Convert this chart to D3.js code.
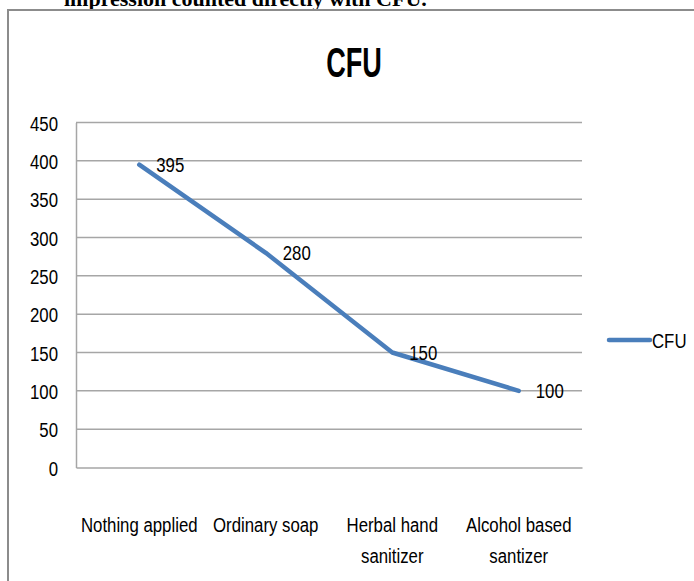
<!DOCTYPE html>
<html>
<head>
<meta charset="utf-8">
<script src="https://cdn.jsdelivr.net/npm/d3@7"></script>
<style>
  html, body { margin: 0; padding: 0; background: #fff; }
  svg { display: block; }
</style>
</head>
<body>
<div id="chart"></div>
<script>
const categories = ["Nothing applied", "Ordinary soap", "Herbal hand sanitizer", "Alcohol based santizer"];
const cfuValues = [395, 280, 150, 100];
const yTicks = [0, 50, 100, 150, 200, 250, 300, 350, 400, 450];
const seriesName = "CFU";
const chartTitle = "CFU";
const captionText = "impression counted directly with CFU.";

const W = 694, H = 581;
const plot = { left: 76, right: 582, top: 122.5, bottom: 467.5 };
const sansFont = "'Liberation Sans', Arial, sans-serif";
const FS = 21, SX = 0.8;

const svg = d3.select("#chart").append("svg").attr("width", W).attr("height", H);

// horizontally condensed text helper
function ctext(sel, x, y, str, anchor, opts = {}) {
  const sx = opts.sx || SX;
  return sel.append("text")
    .attr("transform", `translate(${x},${y}) scale(${sx},1)`)
    .attr("text-anchor", anchor || "start")
    .attr("dy", opts.dy || null)
    .attr("font-family", opts.family || sansFont)
    .attr("font-weight", opts.weight || "normal")
    .attr("font-size", opts.size || FS)
    .attr("fill", "#000")
    .text(str);
}

// caption text above the frame (cropped in the source)
svg.append("text")
  .attr("x", 64).attr("y", 6)
  .attr("font-family", "'Liberation Serif', 'Times New Roman', serif")
  .attr("font-weight", "bold")
  .attr("font-size", 22)
  .attr("fill", "#000")
  .text(captionText);

// outer chart frame (only left & top visible)
svg.append("path")
  .attr("d", `M8,${H + 5} L8,10 L${W + 5},10`)
  .attr("fill", "none").attr("stroke", "#8c8c8c").attr("stroke-width", 2);

// title
ctext(svg, 354, 77, chartTitle, "middle", { sx: 0.63, size: 43, weight: "bold" });

const x = d3.scaleBand().domain(categories).range([plot.left, plot.right]);
const y = d3.scaleLinear().domain([0, 450]).range([plot.bottom, plot.top]);
const cx = d => x(d) + x.bandwidth() / 2;

// gridlines
svg.append("g")
  .selectAll("line").data(yTicks.filter(t => t > 0)).join("line")
  .attr("x1", plot.left).attr("x2", plot.right)
  .attr("y1", d => y(d)).attr("y2", d => y(d))
  .attr("stroke", "#a6a6a6").attr("stroke-width", 1.5);

// y axis
const yAxis = svg.append("g").attr("transform", `translate(${plot.left},0)`)
  .call(d3.axisLeft(y).tickValues(yTicks).tickSize(0));
yAxis.select(".domain").attr("stroke", "#a6a6a6").attr("stroke-width", 1.5);
yAxis.selectAll(".tick text").remove();
yAxis.selectAll(".tick").each(function(d) {
  ctext(d3.select(this), -18, 0, d, "end", { dy: "0.36em" });
});

// x axis
const xAxis = svg.append("g").attr("transform", `translate(0,${plot.bottom})`)
  .call(d3.axisBottom(x).tickSize(0));
xAxis.select(".domain").attr("stroke", "#a6a6a6").attr("stroke-width", 1.5);
xAxis.selectAll(".tick text").remove();

// x labels with wrapping
const maxW = x.bandwidth() - 2;
categories.forEach(d => {
  const words = d.split(" ");
  const probe = ctext(svg, 0, -100, "", "start");
  let lines = [], cur = [];
  words.forEach(w => {
    const test = cur.concat(w).join(" ");
    probe.text(test);
    if (probe.node().getComputedTextLength() * SX > maxW && cur.length) {
      lines.push(cur.join(" ")); cur = [w];
    } else cur.push(w);
  });
  lines.push(cur.join(" "));
  probe.remove();
  lines.forEach((ln, i) => ctext(xAxis, cx(d), 64 + i * 31, ln, "middle"));
});

// line
const line = d3.line().x((d, i) => cx(categories[i])).y(d => y(d));
svg.append("path").datum(cfuValues)
  .attr("d", line)
  .attr("fill", "none").attr("stroke", "#4A7EBB").attr("stroke-width", 4.5)
  .attr("stroke-linejoin", "round").attr("stroke-linecap", "round");

// data labels
const lblG = svg.append("g");
cfuValues.forEach((v, i) => ctext(lblG, cx(categories[i]) + 17, y(v), v, "start", { dy: "0.36em" }));

// legend
const lg = svg.append("g").attr("transform", "translate(609,340)");
lg.append("line").attr("x1", 0).attr("x2", 41).attr("y1", 0).attr("y2", 0)
  .attr("stroke", "#4A7EBB").attr("stroke-width", 4.5).attr("stroke-linecap", "round");
ctext(lg, 43, 0, seriesName, "start", { dy: "0.36em" });
</script>
</body>
</html>
